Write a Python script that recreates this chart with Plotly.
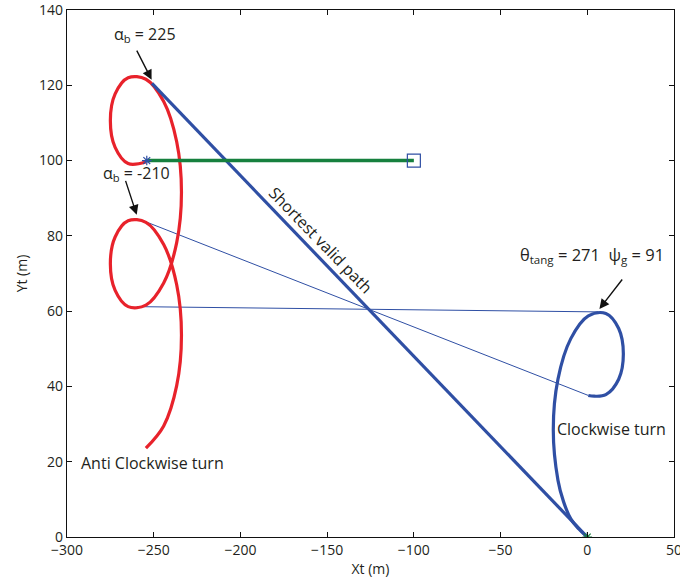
import plotly.graph_objects as go

# ---- data ----
# Red trajectory (anti clockwise turn), points along the curve
red_x = [-254.5, -244.25, -236.75, -234.0, -236.75, -244.25, -254.5, -264.75, -272.25, -275.0,
         -272.25, -264.75, -254.5, -244.25, -236.75, -234.0, -236.75, -244.25, -254.5, -264.75,
         -272.25, -275.0, -272.25, -264.75, -254.5]
red_y = [23.6, 29.5, 40.2, 53.6, 67.0, 77.7, 83.6, 84.0, 79.7, 72.6,
         65.5, 61.2, 61.6, 67.5, 78.2, 91.6, 105.0, 115.7, 121.6, 122.0,
         117.7, 110.6, 103.5, 99.2, 99.6]

# Blue trajectory (clockwise turn)
blue_x = [0.0, -5.0, -9.5, -13.7, -16.9, -19.6, -16.9, -9.5, 0.6, 10.7, 18.1, 20.8, 18.1, 10.7, 4.0, 0.6]
blue_y = [0.0, 2.2, 4.8, 9.4, 15.05, 28.5, 41.95, 52.7, 58.75, 59.4, 55.4, 48.6, 41.9, 37.8, 37.4, 37.6]

# Shortest valid path
path_x = [0.0, -251.0]
path_y = [0.0, 120.5]

# Thin tangent lines
tan1_x = [-256.0, 0.6]
tan1_y = [84.0, 37.6]
tan2_x = [-259.8, 6.4]
tan2_y = [61.2, 59.8]

# Green line with end markers
green_x = [-254.0, -100.0]
green_y = [100.0, 100.0]

x_ticks = [-300, -250, -200, -150, -100, -50, 0, 50]
x_tick_text = ["\u2212300", "\u2212250", "\u2212200", "\u2212150", "\u2212100", "\u221250", "0", "50"]
y_ticks = [0, 20, 40, 60, 80, 100, 120, 140]

RED = "#e8222b"
BLUE = "#2f4fa4"
GREEN = "#16803e"
TXT = "#231f20"
FONT = "Open Sans"

fig = go.Figure()

fig.add_trace(go.Scatter(x=tan1_x, y=tan1_y, mode="lines", line=dict(color=BLUE, width=1)))
fig.add_trace(go.Scatter(x=tan2_x, y=tan2_y, mode="lines", line=dict(color=BLUE, width=1)))
fig.add_trace(go.Scatter(x=red_x, y=red_y, mode="lines",
                         line=dict(color=RED, width=3.2, shape="spline", smoothing=1)))
fig.add_trace(go.Scatter(x=blue_x, y=blue_y, mode="lines",
                         line=dict(color=BLUE, width=3.2, shape="spline", smoothing=1)))
fig.add_trace(go.Scatter(x=path_x, y=path_y, mode="lines", line=dict(color=BLUE, width=3.2)))
fig.add_trace(go.Scatter(x=green_x, y=green_y, mode="lines", line=dict(color=GREEN, width=3.5)))
fig.add_trace(go.Scatter(x=[green_x[0]], y=[green_y[0]], mode="markers",
                         marker=dict(symbol="asterisk-open", size=8, color=BLUE,
                                     line=dict(color=BLUE, width=1.2))))
fig.add_trace(go.Scatter(x=[green_x[1]], y=[green_y[1]], mode="markers",
                         marker=dict(symbol="square-open", size=13, color=BLUE,
                                     line=dict(color=BLUE, width=1.2))))
fig.add_trace(go.Scatter(x=[path_x[0]], y=[path_y[0]], mode="markers",
                         marker=dict(symbol="asterisk-open", size=8, color=GREEN,
                                     line=dict(color=GREEN, width=1.2))))

ann = []
def text(x, y, s, angle=0, size=16):
    ann.append(dict(x=x, y=y, xref="x", yref="y", text=s, showarrow=False, textangle=angle,
                    font=dict(family=FONT, size=size, color=TXT)))

def arrow(x0, y0, x1, y1):
    ann.append(dict(x=x1, y=y1, ax=x0, ay=y0, xref="x", yref="y", axref="x", ayref="y",
                    text="", showarrow=True, arrowhead=2, arrowsize=1.4, arrowwidth=1.4,
                    arrowcolor="#111111"))

text(-255, 133.5, "\u03b1<sub>b</sub> = 225")
arrow(-260.2, 129.6, -251.2, 121.5)
text(-260, 96.5, "\u03b1<sub>b</sub> = -210")
arrow(-266.5, 95.0, -259.8, 85.6)
text(3.0, 75.0, "\u03b8<sub>tang</sub> = 271\u00a0\u00a0\u03c8<sub>g</sub> = 91", size=16.5)
arrow(20.8, 68.8, 7.0, 60.6)
text(-153.7, 79.0, "Shortest valid path", angle=46)
text(-250.7, 19.6, "Anti Clockwise turn")
text(14.1, 28.6, "Clockwise turn")

axis_common = dict(showgrid=False, zeroline=False, showline=True, linecolor="#111111", linewidth=1.2,
                   mirror="allticks", ticks="inside", ticklen=5, tickcolor="#111111", tickwidth=1,
                   ticklabeloverflow="allow", automargin=False,
                   tickfont=dict(family=FONT, size=14, color=TXT))

fig.update_layout(
    width=680, height=583,
    margin=dict(l=67, r=6, t=10, b=46, autoexpand=False),
    paper_bgcolor="white", plot_bgcolor="white",
    showlegend=False,
    annotations=ann,
    xaxis=dict(range=[-300, 50], tickvals=x_ticks, ticktext=x_tick_text,
               title=dict(text="Xt (m)", font=dict(family=FONT, size=14, color=TXT), standoff=6),
               **axis_common),
    yaxis=dict(range=[0, 140], tickvals=y_ticks,
               title=dict(text="Yt (m)", font=dict(family=FONT, size=14, color=TXT), standoff=8),
               **axis_common),
)

fig.write_html("out.html", config={"displayModeBar": False},
               post_script="document.body.style.margin='0';")
